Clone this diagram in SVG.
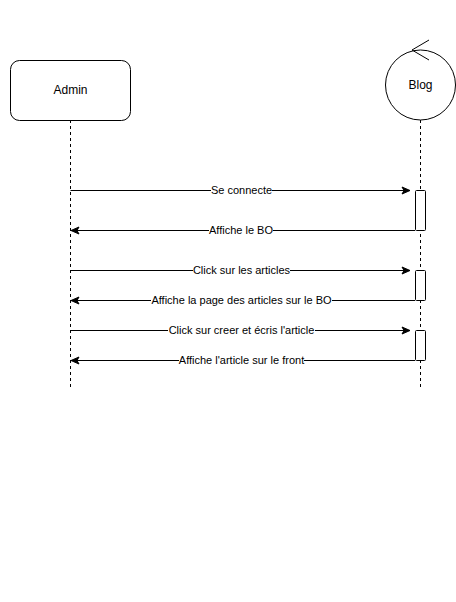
<svg xmlns="http://www.w3.org/2000/svg" width="456" height="602" viewBox="0 0 456 602">
<defs>
<marker id="arr" markerWidth="10" markerHeight="10" refX="9" refY="5" orient="auto" markerUnits="userSpaceOnUse">
<path d="M1,1.5 L9,5 L1,8.5 L3,5 Z" fill="#000" stroke="#000" stroke-width="1"/>
</marker>
</defs>
<style>
.box{fill:#fff;stroke:#000;stroke-width:1}
.life{stroke:#000;stroke-width:1;stroke-dasharray:3,3;fill:none}
.msg{stroke:#000;stroke-width:1;fill:none;marker-end:url(#arr)}
.lbl{font-family:"Liberation Sans",Arial,sans-serif;font-size:11px;fill:#000;text-anchor:middle}
.name{font-family:"Liberation Sans",Arial,sans-serif;font-size:12px;fill:#000;text-anchor:middle}
.bg{fill:#fff}
</style>
<rect width="456" height="602" fill="#fff"/>
<g id="admin">
<line class="life" x1="70.5" y1="120" x2="70.5" y2="390"/>
<rect class="box" x="10.5" y="60.5" width="120" height="60" rx="9" ry="9"/>
<text class="name" x="70.5" y="94">Admin</text>
</g>
<g id="blog">
<line class="life" x1="420.5" y1="120" x2="420.5" y2="390"/>
<circle class="box" cx="420.5" cy="85" r="35"/>
<path d="M429,40 L412,50 L429,60" fill="none" stroke="#000" stroke-width="1"/>
<text class="name" x="420.5" y="89">Blog</text>
<rect class="box" x="415.5" y="190.5" width="10" height="40" rx="1"/>
<rect class="box" x="415.5" y="270.5" width="10" height="30" rx="1"/>
<rect class="box" x="415.5" y="330.5" width="10" height="30" rx="1"/>
</g>
<g id="connectors">
<line class="msg" x1="70.5" y1="190.5" x2="410" y2="190.5"/>
<line class="msg" x1="415" y1="230.5" x2="71" y2="230.5"/>
<line class="msg" x1="70.5" y1="270.5" x2="410" y2="270.5"/>
<line class="msg" x1="415" y1="300.5" x2="71" y2="300.5"/>
<line class="msg" x1="70.5" y1="330.5" x2="410" y2="330.5"/>
<line class="msg" x1="415" y1="360.5" x2="71" y2="360.5"/>
<rect class="bg" x="211" y="184" width="61" height="13"/>
<text class="lbl" x="241.5" y="194">Se connecte</text>
<rect class="bg" x="209" y="224" width="64" height="13"/>
<text class="lbl" x="241" y="234">Affiche le BO</text>
<rect class="bg" x="193" y="264" width="97" height="13"/>
<text class="lbl" x="241.5" y="274">Click sur les articles</text>
<rect class="bg" x="151" y="294" width="181" height="13"/>
<text class="lbl" x="241.5" y="304">Affiche la page des articles sur le BO</text>
<rect class="bg" x="168" y="324" width="147" height="13"/>
<text class="lbl" x="241.5" y="334">Click sur creer et écris l'article</text>
<rect class="bg" x="179" y="354" width="125" height="13"/>
<text class="lbl" x="241.5" y="364">Affiche l'article sur le front</text>
</g>
</svg>
